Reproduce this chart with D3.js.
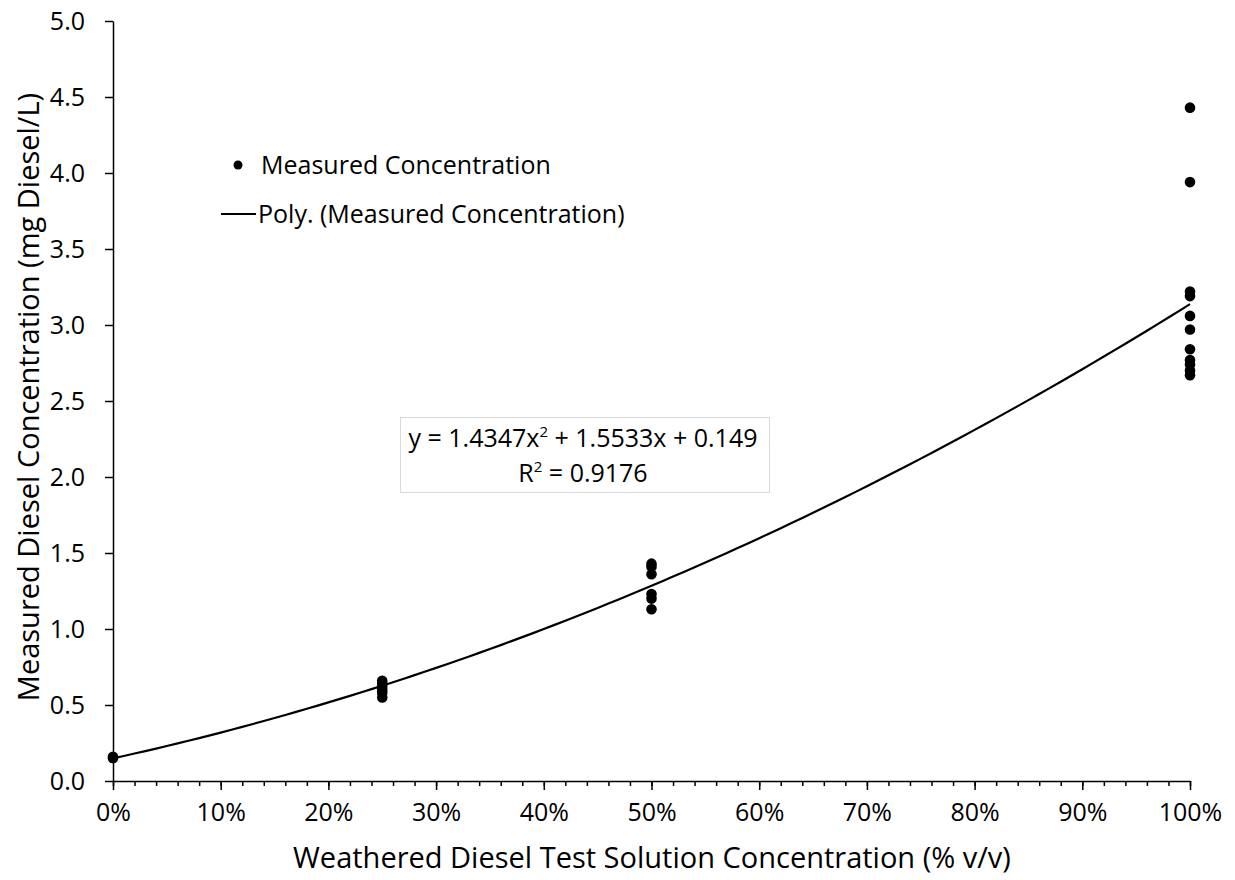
<!DOCTYPE html>
<html>
<head>
<meta charset="utf-8">
<script src="https://cdn.jsdelivr.net/npm/d3@7"></script>
<style>
  body { margin: 0; background: #fff; }
  svg text { font-family: "Open Sans", "Noto Sans", sans-serif; fill: #000; }
</style>
</head>
<body>
<svg id="chart" width="1235" height="880"></svg>
<script>
// Data
const xLevels = [0, 0.25, 0.5, 1.0];
const measured0 = [0.16, 0.15];
const measured25 = [0.66, 0.64, 0.62, 0.60, 0.58, 0.55];
const measured50 = [1.43, 1.41, 1.36, 1.23, 1.20, 1.13];
const measured100 = [4.43, 3.94, 3.22, 3.19, 3.06, 2.97, 2.84, 2.77, 2.74, 2.70, 2.67];
const fitCoef = [1.4347, 1.5533, 0.149]; // a x^2 + b x + c
const rSquared = 0.9176;
const xTicks = [0, 0.1, 0.2, 0.3, 0.4, 0.5, 0.6, 0.7, 0.8, 0.9, 1.0];
const yTicks = [0, 0.5, 1.0, 1.5, 2.0, 2.5, 3.0, 3.5, 4.0, 4.5, 5.0];

const points = [measured0, measured25, measured50, measured100]
  .flatMap((vals, i) => vals.map(v => ({ x: xLevels[i], y: v })));

const svg = d3.select("#chart");
const x = d3.scaleLinear().domain([0, 1]).range([113, 1190]);
const y = d3.scaleLinear().domain([0, 5]).range([781, 21]);
const labelSize = 25;

// x axis: major every 10%, minor every 2%
const minorTicks = d3.range(0, 1.0001, 0.02);
svg.append("g")
  .attr("transform", `translate(0,${y(0)})`)
  .call(d3.axisBottom(x).tickValues(minorTicks).tickSize(5).tickFormat(""))
  .call(g => g.select(".domain").remove())
  .selectAll("line").attr("stroke", "#000").attr("stroke-width", 1.5);

const xAxis = svg.append("g")
  .attr("transform", `translate(0,${y(0)})`)
  .call(d3.axisBottom(x).tickValues(xTicks).tickSize(9).tickSizeOuter(0)
    .tickPadding(13).tickFormat(d3.format(".0%")));
xAxis.select(".domain").attr("stroke", "#000").attr("stroke-width", 1.5);
xAxis.selectAll("line").attr("stroke", "#000").attr("stroke-width", 1.5);
xAxis.selectAll("text").attr("font-size", labelSize).attr("font-family", "Open Sans");

const yAxis = svg.append("g")
  .attr("transform", `translate(${x(0)},0)`)
  .call(d3.axisLeft(y).tickValues(yTicks).tickSize(8).tickSizeOuter(0)
    .tickPadding(20).tickFormat(d3.format(".1f")));
yAxis.select(".domain").attr("stroke", "#000").attr("stroke-width", 1.5);
yAxis.selectAll("line").attr("stroke", "#000").attr("stroke-width", 1.5);
yAxis.selectAll("text").attr("font-size", labelSize).attr("font-family", "Open Sans");

// trendline
const fit = t => fitCoef[0] * t * t + fitCoef[1] * t + fitCoef[2];
const curve = d3.range(0, 1.0001, 0.01).map(t => [t, fit(t)]);
svg.append("path")
  .datum(curve)
  .attr("fill", "none")
  .attr("stroke", "#000")
  .attr("stroke-width", 2.2)
  .attr("d", d3.line().x(d => x(d[0])).y(d => y(d[1])));

// points
svg.selectAll(".pt")
  .data(points)
  .enter()
  .append("circle")
  .attr("cx", d => x(d.x))
  .attr("cy", d => y(d.y))
  .attr("r", 5.3)
  .attr("fill", "#000");

// legend
const legend = svg.append("g");
legend.append("circle").attr("cx", 238).attr("cy", 165).attr("r", 4.5).attr("fill", "#000");
legend.append("text").attr("x", 261).attr("y", 174).attr("font-size", labelSize)
  .text("Measured Concentration");
legend.append("line").attr("x1", 221).attr("x2", 256).attr("y1", 214).attr("y2", 214)
  .attr("stroke", "#000").attr("stroke-width", 2.2);
legend.append("text").attr("x", 258).attr("y", 223).attr("font-size", labelSize)
  .text("Poly. (Measured Concentration)");

// equation box
const eq = svg.append("g");
eq.append("rect").attr("x", 400.5).attr("y", 417.5).attr("width", 369).attr("height", 75)
  .attr("fill", "#fff").attr("stroke", "#d9d9d9").attr("stroke-width", 1);
const eqText = eq.append("text").attr("x", 583).attr("y", 447).attr("font-size", labelSize)
  .attr("text-anchor", "middle");
eqText.append("tspan").text(`y = ${fitCoef[0]}x`);
eqText.append("tspan").text("2").attr("font-size", 15).attr("dy", -10);
eqText.append("tspan").text(` + ${fitCoef[1]}x + ${fitCoef[2]}`).attr("dy", 10);
const r2Text = eq.append("text").attr("x", 583).attr("y", 482).attr("font-size", labelSize)
  .attr("text-anchor", "middle");
r2Text.append("tspan").text("R");
r2Text.append("tspan").text("2").attr("font-size", 15).attr("dy", -10);
r2Text.append("tspan").text(` = ${rSquared}`).attr("dy", 10);

// axis titles
svg.append("text").attr("x", 652).attr("y", 868).attr("font-size", 29)
  .attr("text-anchor", "middle")
  .text("Weathered Diesel Test Solution Concentration (% v/v)");
svg.append("text")
  .attr("transform", "translate(39,397) rotate(-90)")
  .attr("font-size", 29)
  .attr("text-anchor", "middle")
  .text("Measured Diesel Concentration (mg Diesel/L)");
</script>
</body>
</html>
